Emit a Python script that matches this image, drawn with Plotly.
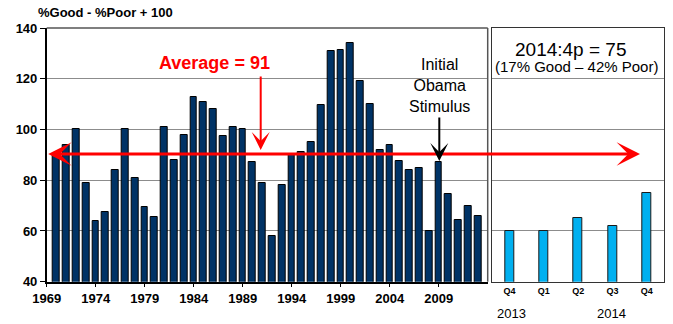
import plotly.graph_objects as go

years = list(range(1970, 2014))
values = [90, 94, 100, 79, 64, 67.5, 84, 100, 81, 69.5,
          65.5, 101, 88, 98, 113, 111, 108, 97.5, 101, 100,
          87, 79, 58, 78, 90, 91, 95, 109.5, 131, 131.5,
          134, 119, 110, 92, 94, 87.5, 84, 85, 60, 87,
          74.5, 64.5, 70, 66]
quarters = ["Q4", "Q1", "Q2", "Q3", "Q4"]
q_values = [60, 60, 65, 62, 75]
year_ticks = [1969, 1974, 1979, 1984, 1989, 1994, 1999, 2004, 2009]
average = 91

W, H = 673, 324
def px(x):
    return x / W
def py(y):
    return (H - y) / H

FONT = "Liberation Sans, Arial"

fig = go.Figure()
fig.add_trace(go.Bar(x=years, y=values, marker=dict(color="#003366", line=dict(color="#000000", width=1)),
                     width=0.68, xaxis="x", yaxis="y", showlegend=False))
fig.add_trace(go.Bar(x=list(range(len(quarters))), y=q_values,
                     marker=dict(color="#00B0F0", line=dict(color="#1a1a1a", width=1)),
                     width=0.27, xaxis="x2", yaxis="y2", showlegend=False))

ydom = [py(281.7), py(28)]
fig.update_layout(
    width=W, height=H, margin=dict(l=0, r=0, t=0, b=0, autoexpand=False),
    paper_bgcolor="white", plot_bgcolor="white",
    font=dict(family=FONT, color="#000"),
    xaxis=dict(domain=[px(46.7), px(487.7)], range=[1969, 2014], tickvals=year_ticks,
               ticks="outside", ticklen=4, tickcolor="#000", showline=True, linecolor="#000",
               linewidth=1.5, showgrid=False, zeroline=False, automargin=False,
               tickfont=dict(size=13, family=FONT, color="#000", weight="bold"), anchor="y"),
    yaxis=dict(domain=ydom, range=[40, 140], dtick=20, ticks="outside", ticklen=5, tickcolor="#000",
               showline=True, linecolor="#000", linewidth=1.5, gridcolor="#8c8c8c", gridwidth=1,
               zeroline=False, automargin=False,
               tickfont=dict(size=13, family=FONT, color="#000", weight="bold"), anchor="x"),
    xaxis2=dict(domain=[px(492.3), px(664)], range=[-0.5, 4.5], tickvals=list(range(5)), ticktext=quarters,
                ticks="", showline=True, mirror=True, linecolor="#333", linewidth=1, showgrid=False,
                zeroline=False, automargin=False,
                tickfont=dict(size=9, family=FONT, color="#000", weight="bold"), anchor="y2"),
    yaxis2=dict(domain=ydom, range=[40, 140], dtick=20, showticklabels=False, ticks="",
                showline=True, mirror=True, linecolor="#333", linewidth=1, gridcolor="#8c8c8c",
                zeroline=False, automargin=False, anchor="x2"),
    bargap=0,
)

# left panel top & right border
fig.add_shape(type="line", xref="paper", yref="paper", x0=px(46.7), x1=px(487.7), y0=py(28), y1=py(28),
              line=dict(color="#555", width=1.5))
fig.add_shape(type="line", xref="paper", yref="paper", x0=px(487.7), x1=px(487.7), y0=py(28), y1=py(281.7),
              line=dict(color="#555", width=1.5))

def text_ann(x, y, text, size, color="#000", xanchor="center"):
    return dict(xref="paper", yref="paper", x=px(x), y=py(y), xanchor=xanchor, yanchor="middle",
                text=text, showarrow=False, font=dict(size=size, color=color), align="center")

ann = []
ann.append(text_ann(36, 13, "<b>%Good - %Poor + 100</b>", 13, xanchor="left"))
# average double arrow
ann.append(dict(xref="paper", yref="paper", x=px(640), y=py(154), ax=-(640 - 46.7), ay=0,
                axref="pixel", ayref="pixel", text="", showarrow=True, arrowside="end+start",
                arrowhead=3, startarrowhead=3, arrowsize=1.3, startarrowsize=1.3, arrowwidth=3,
                arrowcolor="#ff0000", standoff=0, startstandoff=0))
ann.append(text_ann(214, 63.3, "<b>Average = %d</b>" % average, 18, color="#ff0000"))
ann.append(dict(xref="paper", yref="paper", x=px(260.7), y=py(150), ax=0, ay=-(150 - 75), text="",
                showarrow=True, arrowhead=3, arrowsize=1.5, arrowwidth=2, arrowcolor="#ff0000", standoff=0))
# Obama stimulus
ann.append(text_ann(439.5, 86, "Initial<br>Obama<br>Stimulus", 16))
ann.append(dict(xref="paper", yref="paper", x=px(439.3), y=py(161), ax=0, ay=-(161 - 116), text="",
                showarrow=True, arrowhead=3, arrowsize=1.5, arrowwidth=2, arrowcolor="#000", standoff=0))
# right panel labels
ann.append(text_ann(570, 49.3, "2014:4p = 75", 19))
ann.append(text_ann(576, 66.7, "(17% Good \u2013 42% Poor)", 15))
ann.append(text_ann(511, 313, "2013", 13))
ann.append(text_ann(611.7, 313, "2014", 13))
fig.update_layout(annotations=ann)

fig.write_html("out.html", config={"displayModeBar": False},
               post_script="document.body.style.margin='0px';document.body.style.overflow='hidden';")
